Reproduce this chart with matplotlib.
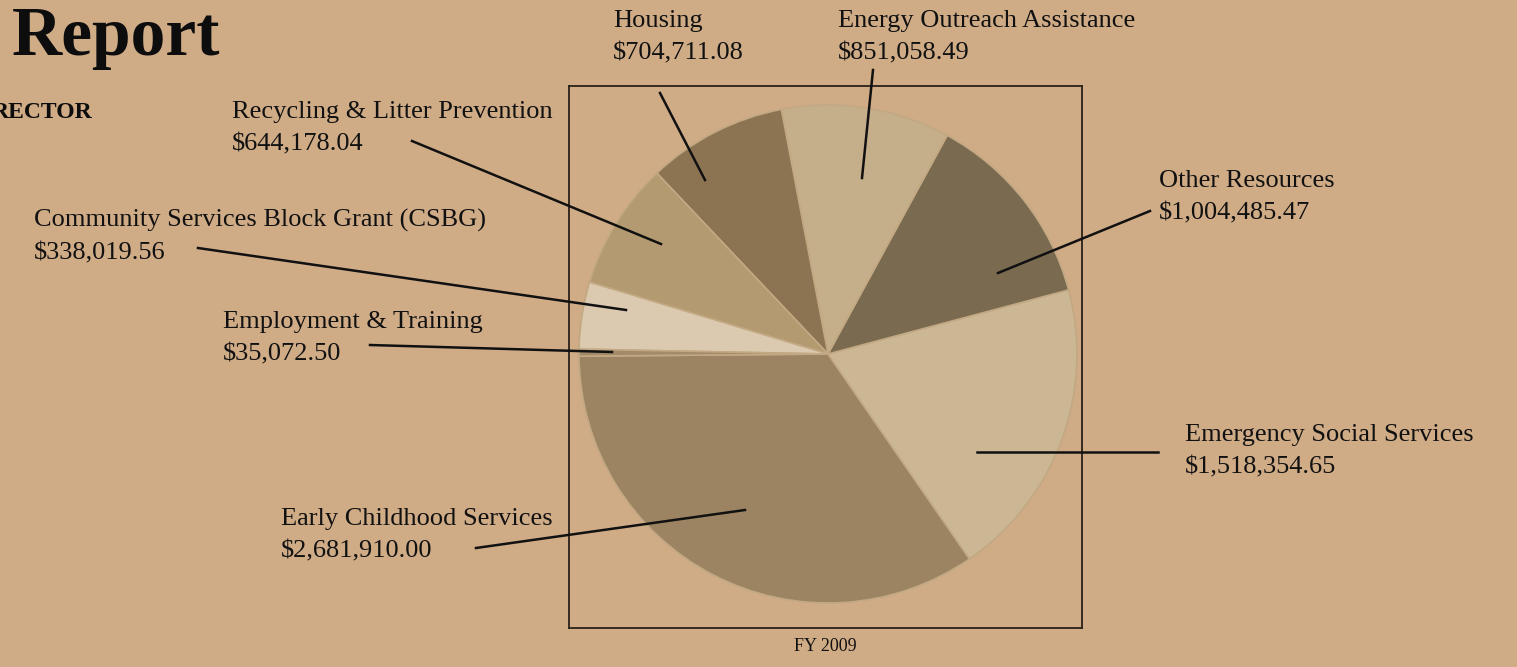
import matplotlib.pyplot as plt
from matplotlib.lines import Line2D

# FY 2009 funding by program
programs = [
    "Early Childhood Services",
    "Emergency Social Services",
    "Other Resources",
    "Energy Outreach Assistance",
    "Housing",
    "Recycling & Litter Prevention",
    "Community Services Block Grant (CSBG)",
    "Employment & Training",
]
amounts = [2681910.00, 1518354.65, 1004485.47, 851058.49,
           704711.08, 644178.04, 338019.56, 35072.50]
slice_colors = ["#9c8462", "#ccb795", "#7a6a50", "#c5ae8a",
                "#8c7453", "#b49a71", "#dccab0", "#a38b69"]

W, H = 1517, 667
BG = "#cfab86"

fig = plt.figure(figsize=(W / 100, H / 100), dpi=100)
fig.patch.set_facecolor(BG)

# pie axes, placed in pixel terms to match the framed box
bx0, by0, bx1, by1 = 569, 86, 1082, 628
ax = fig.add_axes([bx0 / W, 1 - by1 / H, (bx1 - bx0) / W, (by1 - by0) / H])
ax.set_facecolor("none")
cx, cy, r = 828, H - 354, 249
ax.pie(amounts, colors=slice_colors, startangle=180.5, counterclock=True,
       center=(cx, cy), radius=r, frame=True,
       wedgeprops=dict(edgecolor="#c2a983", linewidth=1.2))
ax.set_aspect("auto")
ax.set_xlim(bx0, bx1)
ax.set_ylim(H - by1, H - by0)
ax.set_xticks([])
ax.set_yticks([])
for s in ax.spines.values():
    s.set_color("#2a2119")
    s.set_linewidth(1.3)

# overlay in pixel coords for labels and leader lines
ov = fig.add_axes([0, 0, 1, 1])
ov.set_xlim(0, W)
ov.set_ylim(H, 0)
ov.axis("off")
ov.patch.set_alpha(0)

serif = "Liberation Serif"
ink = "#111111"
# (text x, first baseline y, line from, line to)
layout = [
    (281, 525, (476, 548), (745, 510)),
    (1185, 441, (1158, 452), (977, 452)),
    (1159, 187, (1150, 211), (998, 273)),
    (838, 27, (873, 70), (862, 178)),
    (613, 27, (660, 93), (705, 180)),
    (232, 118, (412, 141), (661, 244)),
    (34, 227, (198, 248), (626, 310)),
    (223, 328, (370, 345), (612, 352)),
]
for name, amt, (tx, ty, p0, p1) in zip(programs, amounts, layout):
    ov.text(tx, ty, name, ha="left", va="baseline", fontsize=19,
            family=serif, color=ink)
    ov.text(tx, ty + 32, f"${amt:,.2f}", ha="left", va="baseline",
            fontsize=19, family=serif, color=ink)
    ov.add_line(Line2D([p0[0], p1[0]], [p0[1], p1[1]], color=ink, lw=1.8))

ov.text((bx0 + bx1) / 2, 651, "FY 2009", ha="center", va="baseline",
        fontsize=13, family=serif, color=ink)

# page header fragments at top left
ov.text(12, 55, "Report", ha="left", va="baseline", fontsize=50,
        family=serif, weight="bold", color="#0d0d0d")
ov.text(-8, 118, "RECTOR", ha="left", va="baseline", fontsize=17,
        family=serif, weight="bold", color="#0d0d0d")

fig.savefig("out.png", dpi=100, facecolor=BG)
